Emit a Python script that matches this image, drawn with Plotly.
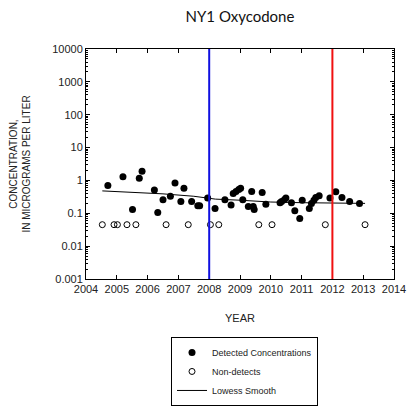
import plotly.graph_objects as go

# Detected oxycodone concentrations (micrograms per liter) by decimal year
det_year = [2004.71, 2005.20, 2005.51, 2005.73, 2005.82, 2006.22, 2006.33, 2006.50,
            2006.74, 2006.89, 2007.08, 2007.18, 2007.43, 2007.63, 2007.69, 2007.95,
            2008.19, 2008.51, 2008.71, 2008.78, 2008.87, 2008.96, 2009.02, 2009.09,
            2009.27, 2009.38, 2009.43, 2009.46, 2009.72, 2009.84, 2010.30, 2010.35,
            2010.44, 2010.49, 2010.67, 2010.78, 2010.94, 2011.02, 2011.25, 2011.32,
            2011.40, 2011.46, 2011.57, 2011.92, 2012.11, 2012.31, 2012.56, 2012.88]
det_conc = [0.70, 1.3, 0.13, 1.17, 1.9, 0.51, 0.106, 0.26,
            0.33, 0.83, 0.23, 0.58, 0.23, 0.17, 0.17, 0.29,
            0.14, 0.26, 0.18, 0.40, 0.46, 0.53, 0.58, 0.26,
            0.16, 0.46, 0.16, 0.13, 0.43, 0.19, 0.21, 0.23,
            0.26, 0.29, 0.21, 0.12, 0.07, 0.25, 0.14, 0.20,
            0.25, 0.30, 0.34, 0.29, 0.45, 0.30, 0.23, 0.20]

# Non-detect samples, plotted at the reporting level
nd_year = [2004.53, 2004.91, 2005.02, 2005.33, 2005.62, 2006.60, 2007.32,
           2008.04, 2008.31, 2009.61, 2010.04, 2011.77, 2013.06]
nd_conc = [0.045] * len(nd_year)

# Lowess smooth of the concentrations
lowess_year = [2004.53, 2005.5, 2006.5, 2007.5, 2008.2, 2009.0, 2010.0, 2011.0, 2012.0, 2013.06]
lowess_conc = [0.48, 0.44, 0.39, 0.33, 0.27, 0.25, 0.22, 0.21, 0.205, 0.20]

# Reference years marked with vertical lines
ref_years = [2008, 2012]
ref_colors = ["#1010e0", "#f01010"]

year_ticks = list(range(2004, 2015))

fig = go.Figure()

fig.add_trace(go.Scatter(
    x=det_year, y=det_conc, mode="markers", name="Detected Concentrations",
    marker=dict(symbol="circle", size=7, color="black"),
))
fig.add_trace(go.Scatter(
    x=nd_year, y=nd_conc, mode="markers", name="Non-detects",
    marker=dict(symbol="circle-open", size=6, color="black", line=dict(width=1)),
))
fig.add_trace(go.Scatter(
    x=lowess_year, y=lowess_conc, mode="lines", name="Lowess Smooth",
    line=dict(color="black", width=1),
))

for yr, col in zip(ref_years, ref_colors):
    fig.add_shape(type="line", xref="x", yref="paper", x0=yr, x1=yr, y0=0, y1=1,
                  line=dict(color=col, width=2))

sans = "Liberation Sans"
axis_font = dict(family=sans, size=11, color="#222")

fig.update_layout(
    width=409, height=407,
    margin=dict(l=86, r=15, t=49, b=128, autoexpand=False),
    paper_bgcolor="white", plot_bgcolor="white",
    font=axis_font,
    title=dict(text="NY1 Oxycodone", x=0.5, xanchor="center", xref="paper",
               y=0.958, yanchor="middle",
               font=dict(family="Lato", size=15, color="#111")),
    showlegend=True,
    legend=dict(
        x=0.276, y=-0.252, xanchor="left", yanchor="top",
        bordercolor="black", borderwidth=1, bgcolor="white",
        font=dict(family=sans, size=9, color="#222"),
        tracegroupgap=0,
    ),
)

fig.update_xaxes(
    range=[2004, 2014], tickmode="array", tickvals=year_ticks,
    ticks="inside", ticklen=4, tickcolor="black", mirror="allticks",
    showline=True, linecolor="black", linewidth=1, showgrid=False, zeroline=False,
    tickfont=axis_font, automargin=False,
    title=dict(text="YEAR", font=axis_font, standoff=20),
)
fig.update_yaxes(
    type="log", range=[-3, 4], tickmode="linear", tick0=0, dtick=1, tickformat="~g",
    ticks="inside", ticklen=4, tickcolor="black", mirror="allticks",
    minor=dict(ticks="inside", ticklen=2, tickcolor="black", showgrid=False),
    showline=True, linecolor="black", linewidth=1, showgrid=False, zeroline=False,
    tickfont=axis_font, automargin=False,
    title=dict(text="CONCENTRATION,<br>IN MICROGRAMS PER LITER",
               font=dict(family=sans, size=10, color="#222"),
               standoff=19),
)

fig.write_html("out.html")
